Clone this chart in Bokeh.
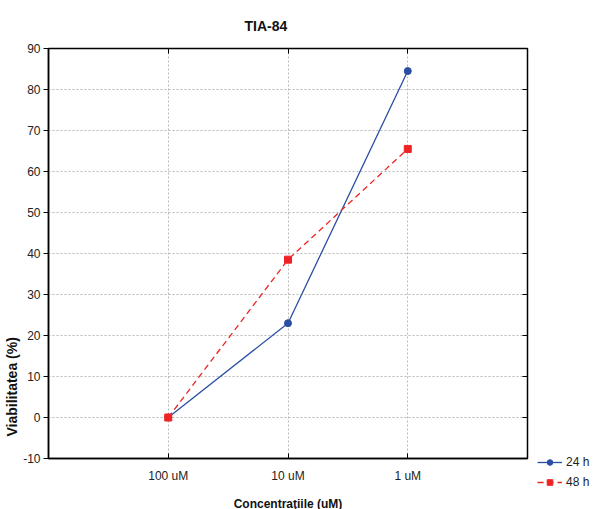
from bokeh.plotting import figure
from bokeh.layouts import row
from bokeh.models import (Range1d, LinearAxis, FixedTicker, Legend, LegendItem, Title)
from bokeh.embed import file_html
from bokeh.resources import INLINE

categories = ["100 uM", "10 uM", "1 uM"]
series_24h = [0.0, 23.0, 84.5]
series_48h = [0.0, 38.5, 65.5]
y_ticks = [-10, 0, 10, 20, 30, 40, 50, 60, 70, 80, 90]

FONT = "Liberation Sans"
BLUE = "#2a4ea3"
RED = "#ee2424"

# category positions 1..n on a numeric axis, with one empty slot on each side
x_pos = list(range(1, len(categories) + 1))

p = figure(x_range=Range1d(0, len(categories) + 1), y_range=Range1d(-10, 90),
           frame_width=479, frame_height=410, output_backend="svg", toolbar_location=None,
           min_border_left=44, min_border_right=8, min_border_top=47, min_border_bottom=50)
p.frame_align = False

p.title = Title(text="TIA-84", align="left", offset=196, text_font=FONT,
                text_font_size="14px", text_font_style="bold", text_color="#111111",
                standoff=30)

p.outline_line_color = "#000000"
p.outline_line_width = 1.5

# grid
p.xgrid.grid_line_color = "#b8b8b8"
p.xgrid.grid_line_dash = "2 2"
p.xgrid.ticker = FixedTicker(ticks=x_pos)
p.ygrid.grid_line_color = "#b8b8b8"
p.ygrid.grid_line_dash = "2 2"
p.ygrid.ticker = FixedTicker(ticks=y_ticks)

# left axis
ya = p.yaxis[0]
ya.ticker = FixedTicker(ticks=y_ticks)
ya.major_label_overrides = {t: str(t) for t in y_ticks}
ya.major_tick_in = 0
ya.major_tick_out = 5
ya.minor_tick_out = 0
ya.minor_tick_in = 0
ya.axis_line_color = "#000000"
ya.axis_line_width = 1.5
ya.major_label_text_font = FONT
ya.major_label_text_font_size = "12px"
ya.major_label_text_color = "#222222"
ya.major_label_standoff = 3

# bottom axis
xa = p.xaxis[0]
xa.ticker = FixedTicker(ticks=x_pos)
xa.major_label_overrides = {x: c for x, c in zip(x_pos, categories)}
xa.major_tick_in = 5
xa.major_tick_out = 0
xa.minor_tick_in = 0
xa.minor_tick_out = 0
xa.axis_line_color = "#000000"
xa.axis_line_width = 1.5
xa.major_label_text_font = FONT
xa.major_label_text_font_size = "12px"
xa.major_label_text_color = "#222222"
xa.major_label_standoff = 10
xa.axis_label = "Concentra\u0163iile (uM)"
xa.axis_label_text_font = FONT
xa.axis_label_text_font_size = "12px"
xa.axis_label_text_font_style = "bold"
xa.axis_label_text_color = "#111111"
xa.axis_label_standoff = 11

# top axis (ticks only)
ta = LinearAxis(ticker=FixedTicker(ticks=x_pos),
                major_tick_in=5, major_tick_out=0, minor_tick_in=0, minor_tick_out=0,
                major_label_overrides={t: "" for t in x_pos},
                major_label_standoff=0, axis_line_color=None)
p.add_layout(ta, "above")

# right axis (ticks only)
ra = LinearAxis(ticker=FixedTicker(ticks=y_ticks), major_tick_in=5, major_tick_out=0,
                minor_tick_in=0, minor_tick_out=0,
                major_label_overrides={t: "" for t in y_ticks},
                major_label_standoff=0, axis_line_color=None)
p.add_layout(ra, "right")

# y label as left title
p.add_layout(Title(text="Viabilitatea (%)", align="left", offset=22, text_font=FONT,
                   text_font_size="14px", text_font_style="bold", text_color="#111111",
                   standoff=2), "left")

p.line(x_pos, series_24h, line_color=BLUE, line_width=1.3)
p.scatter(x_pos, series_24h, marker="circle", size=7, fill_color=BLUE, line_color=BLUE)
p.line(x_pos, series_48h, line_color=RED, line_width=1.3, line_dash="6 4")
p.scatter(x_pos, series_48h, marker="square", size=7, fill_color=RED, line_color=RED)

# legend panel to the right of the chart (its key glyphs carry no drawable data)
nan = float("nan")
p2 = figure(width=58, height=501, output_backend="svg", toolbar_location=None,
            x_range=Range1d(0, 1), y_range=Range1d(0, 1),
            x_axis_location=None, y_axis_location=None,
            min_border_left=0, min_border_right=0, min_border_top=0, min_border_bottom=0)
p2.frame_align = False
p2.grid.visible = False
p2.outline_line_color = None
k1 = p2.line([nan], [nan], line_color=BLUE, line_width=1.3)
k1m = p2.scatter([nan], [nan], marker="circle", size=7, fill_color=BLUE, line_color=BLUE)
k2 = p2.line([nan], [nan], line_color=RED, line_width=1.3, line_dash="6 4")
k2m = p2.scatter([nan], [nan], marker="square", size=7, fill_color=RED, line_color=RED)

legend = Legend(items=[LegendItem(label="24 h", renderers=[k1, k1m]),
                       LegendItem(label="48 h", renderers=[k2, k2m])],
                location=(2, 12), padding=0, spacing=6, glyph_width=25, glyph_height=14,
                label_text_font=FONT, label_text_font_size="12px", label_text_color="#222222",
                border_line_color=None, background_fill_alpha=0, margin=0, label_standoff=4)
p2.add_layout(legend, "center")

open("out.html", "w").write(file_html(row(p, p2), INLINE))
